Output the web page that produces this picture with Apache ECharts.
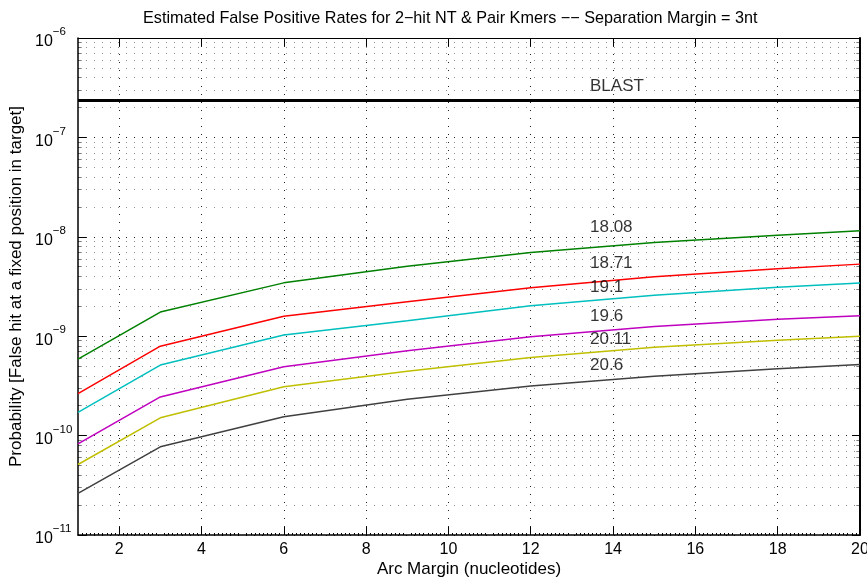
<!DOCTYPE html>
<html>
<head>
<meta charset="utf-8">
<script src="https://cdn.jsdelivr.net/npm/echarts@6/dist/echarts.min.js"></script>
<style>
  html, body { margin: 0; padding: 0; background: #fff; }
  #chart { width: 867px; height: 577px; }
</style>
</head>
<body>
<div id="chart"></div>
<script>
// arc margin sample points (x)
const arcMargin = [1, 3, 6, 9, 12, 15, 18, 20]

// false positive rates per score threshold
const seriesNames = ["18.08", "18.71", "19.1", "19.6", "20.11", "20.6"]
const rate1808 = [5.89e-10, 1.75e-9, 3.44e-9, 5.05e-9, 6.95e-9, 8.74e-9, 1.035e-8, 1.15e-8]
const rate1871 = [2.64e-10, 7.94e-10, 1.59e-9, 2.22e-9, 3.07e-9, 3.96e-9, 4.77e-9, 5.31e-9]
const rate191 = [1.71e-10, 5.12e-10, 1.03e-9, 1.43e-9, 2.02e-9, 2.58e-9, 3.10e-9, 3.42e-9]
const rate196 = [8.26e-11, 2.45e-10, 4.92e-10, 7.13e-10, 9.86e-10, 1.25e-9, 1.48e-9, 1.61e-9]
const rate2011 = [5.12e-11, 1.51e-10, 3.10e-10, 4.43e-10, 6.11e-10, 7.73e-10, 9.10e-10, 1.0e-9]
const rate206 = [2.62e-11, 7.71e-11, 1.55e-10, 2.32e-10, 3.15e-10, 3.95e-10, 4.70e-10, 5.19e-10]
const blastRate = 2.35e-7

// where the curve labels sit
const labelX = 13.44
const labelY = [1.26e-8, 5.35e-9, 3.07e-9, 1.6e-9, 9.2e-10, 5.04e-10]
const blastLabelY = 3.3e-7

// ticks
const xTicks = [2, 4, 6, 8, 10, 12, 14, 16, 18, 20]
const decades = [1e-11, 1e-10, 1e-9, 1e-8, 1e-7, 1e-6]
const minorTicks = []
decades.slice(0, -1).forEach((d) => {
  for (let k = 2; k <= 9; k++) minorTicks.push(k * d)
})

const colors = ["#008000", "#ff0000", "#00bfbf", "#bf00bf", "#bfbf00", "#404040"]
const rates = [rate1808, rate1871, rate191, rate196, rate2011, rate206]

const FONT = "Liberation Sans"
const dotted = { color: "#222", type: [1, 7], width: 1 }
const xMin = 1
const xMax = 20
const minorTickLen = 0.09 // in x units, ~4px

const chart = echarts.init(document.getElementById("chart"))

const lineSeries = rates.map((r, i) => ({
  name: seriesNames[i],
  type: "line",
  data: arcMargin.map((x, j) => [x, r[j]]),
  showSymbol: false,
  lineStyle: { color: colors[i], width: 1.5 },
  itemStyle: { color: colors[i] },
  z: 5,
}))

const labelSeries = {
  type: "scatter",
  symbolSize: 0,
  silent: true,
  data: seriesNames
    .map((n, i) => [labelX, labelY[i], n])
    .concat([[labelX, blastLabelY, "BLAST"]]),
  label: {
    show: true,
    position: "right",
    distance: 0,
    formatter: (p) => p.data[2],
    color: "#000",
    fontFamily: FONT,
    fontSize: 17,
  },
  z: 6,
}

const blastSeries = {
  type: "line",
  data: [[xMin, blastRate], [xMax, blastRate]],
  showSymbol: false,
  lineStyle: { color: "#000", width: 3 },
  z: 5,
}

// minor grid lines and minor ticks, placed through the log scale
const minorGridSeries = {
  type: "lines",
  coordinateSystem: "cartesian2d",
  silent: true,
  lineStyle: dotted,
  data: minorTicks.map((v) => ({ coords: [[xMin, v], [xMax, v]] })),
  z: 1,
}
const minorTickData = []
minorTicks.forEach((v) => {
  minorTickData.push({ coords: [[xMin, v], [xMin + minorTickLen, v]] })
  minorTickData.push({ coords: [[xMax - minorTickLen, v], [xMax, v]] })
})
const minorTickSeries = {
  type: "lines",
  coordinateSystem: "cartesian2d",
  silent: true,
  lineStyle: { color: "#000", width: 1, type: "solid" },
  data: minorTickData,
  z: 2,
}

const xMinorTick = { show: true, splitNumber: 20, length: 2, lineStyle: { color: "#000", width: 1 } }

const option = {
  animation: false,
  title: {
    text: "Estimated False Positive Rates for 2\u2212hit NT & Pair Kmers \u2212\u2212 Separation Margin = 3nt",
    left: 143,
    top: 11,
    padding: 0,
    textStyle: { fontFamily: FONT, fontSize: 16.2, fontWeight: "normal", color: "#000" },
  },
  grid: { left: 78, right: 7, top: 38, bottom: 42, outerBoundsMode: "none", containLabel: false },
  xAxis: [
    {
      type: "value",
      min: xMin,
      max: xMax,
      interval: 1,
      position: "bottom",
      axisLine: { lineStyle: { color: "#000", width: 1.5 } },
      axisTick: { inside: true, length: 8, customValues: xTicks, lineStyle: { color: "#000" } },
      minorTick: Object.assign({}, xMinorTick, { splitNumber: 10 }),
      axisLabel: {
        customValues: xTicks,
        color: "#000",
        fontFamily: FONT,
        fontSize: 16,
        margin: 7,
      },
      splitLine: { show: true, lineStyle: dotted },
      name: "Arc Margin (nucleotides)",
      nameLocation: "middle",
      nameGap: 34,
      nameMoveOverlap: false,
      nameTextStyle: { fontFamily: FONT, fontSize: 17, color: "#000", verticalAlign: "middle" },
    },
    {
      type: "value",
      min: xMin,
      max: xMax,
      interval: 1,
      position: "top",
      axisLine: { lineStyle: { color: "#000", width: 1 } },
      axisTick: { inside: true, length: 8, customValues: xTicks, lineStyle: { color: "#000" } },
      axisLabel: { show: false },
      splitLine: { show: false },
    },
  ],
  yAxis: [
    {
      type: "log",
      logBase: 10,
      min: 1e-11,
      max: 1e-6,
      position: "left",
      axisLine: { show: true, lineStyle: { color: "#000", width: 1.5 } },
      axisTick: { show: true, inside: true, length: 8, lineStyle: { color: "#000" } },
      minorTick: { show: false },
      axisLabel: {
        color: "#000",
        fontFamily: FONT,
        fontSize: 16,
        margin: 43,
        align: "left",
        formatter: (v) => "{b|10}{s|" + String(Math.round(Math.log10(v))).replace("-", "\u2212") + "}",
        rich: {
          b: { fontFamily: FONT, fontSize: 16, color: "#000", lineHeight: 24, verticalAlign: "bottom" },
          s: { fontFamily: FONT, fontSize: 11.5, color: "#000", lineHeight: 24, verticalAlign: "top" },
        },
      },
      splitLine: { show: true, lineStyle: dotted },
      name: "Probability [False hit at a fixed position in target]",
      nameLocation: "middle",
      nameGap: 61.5,
      nameMoveOverlap: false,
      nameTextStyle: { fontFamily: FONT, fontSize: 17, color: "#000", verticalAlign: "middle" },
    },
    {
      type: "log",
      logBase: 10,
      min: 1e-11,
      max: 1e-6,
      position: "right",
      axisLine: { show: true, lineStyle: { color: "#000", width: 2 } },
      axisTick: { show: true, inside: true, length: 8, lineStyle: { color: "#000" } },
      axisLabel: { show: false },
      splitLine: { show: false },
    },
  ],
  series: [minorGridSeries, minorTickSeries, blastSeries, ...lineSeries, labelSeries],
}

chart.setOption(option)
</script>
</body>
</html>
